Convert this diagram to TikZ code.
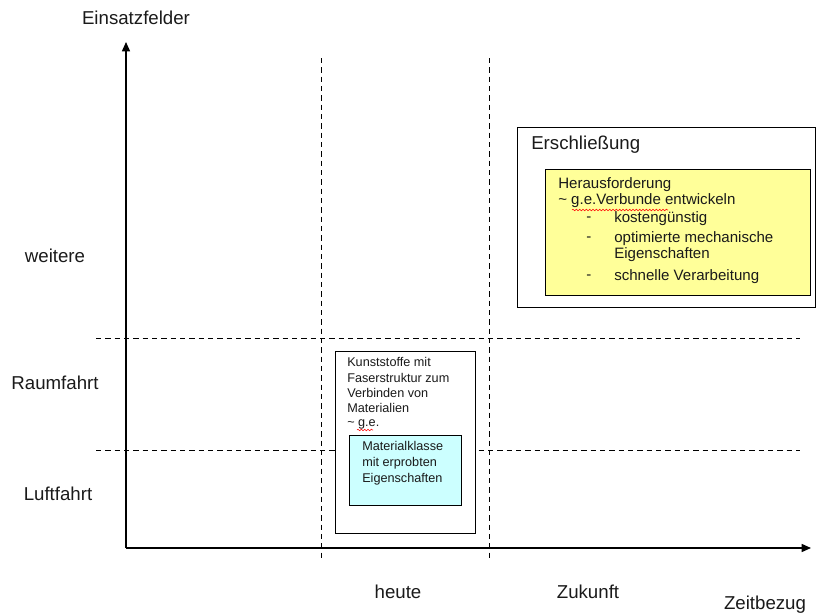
\documentclass[tikz,border=0pt]{standalone}
\usepackage{fontspec}
\setmainfont{Liberation Sans}
\usetikzlibrary{arrows.meta,decorations.pathmorphing}
\definecolor{txt}{HTML}{1A1A1A}
\definecolor{yellowbox}{HTML}{FFFF99}
\definecolor{cyanbox}{HTML}{CCFFFF}
\tikzset{
  axis/.style={line width=1.1pt,-{Triangle[length=7pt,width=6pt]}},
  grid/.style={dashed,line width=0.6pt,dash pattern=on 4pt off 3pt},
  big/.style={font=\fontsize{14}{16}\selectfont,text=txt},
  small/.style={font=\fontsize{9.5}{11}\selectfont,text=txt,anchor=west,inner sep=0pt},
  mid/.style={font=\fontsize{11.3}{13}\selectfont,text=txt,anchor=west,inner sep=0pt},
  box/.style={draw,line width=0.7pt},
  squiggle/.style={red,line width=0.4pt,decorate,decoration={snake,amplitude=0.6pt,segment length=2.5pt}}
}
\begin{document}
\begin{tikzpicture}[x=0.75pt,y=-0.75pt]
\useasboundingbox (0,0) rectangle (819,615);
% axes
\coordinate (o) at (126,548);
\coordinate (ytop) at (126,42);
\coordinate (xend) at (811,548);
\draw[axis] (o) -- (ytop);
\draw[axis] (o) -- (xend);
% dashed grid
\coordinate (v1a) at (321,58); \coordinate (v1b) at (321,561);
\coordinate (v2a) at (489,58); \coordinate (v2b) at (489,561);
\coordinate (h1a) at (96,338); \coordinate (h1b) at (800,338);
\coordinate (h2a) at (96,450); \coordinate (h2b) at (800,450);
\draw[grid] (v1a) -- (v1b);
\draw[grid] (v2a) -- (v2b);
\draw[grid] (h1a) -- (h1b);
\draw[grid] (h2a) -- (h2b);
% labels
\node[big] (einsatz) at (136,18) {Einsatzfelder};
\node[big] (weitere) at (55,256) {weitere};
\node[big] (raum) at (55,383) {Raumfahrt};
\node[big] (luft) at (58,494) {Luftfahrt};
\node[big] (heute) at (398,592) {heute};
\node[big] (zukunft) at (588,592) {Zukunft};
\node[big] (zeit) at (765,605) {Zeitbezug};
% Kunststoffe box
\filldraw[box,fill=white] (335,351) rectangle (475,533);
\node[small] (k1) at (347,362) {Kunststoffe mit};
\node[small] (k2) at (347,378) {Faserstruktur zum};
\node[small] (k3) at (347,393) {Verbinden von};
\node[small] (k4) at (347,408) {Materialien};
\node[small] (k5) at (347,424) {\textasciitilde\ g.e.};
\draw[squiggle] (357,430) -- (373,430);
\filldraw[box,fill=cyanbox] (349,435) rectangle (461,505);
\node[small] (c1) at (362,446) {Materialklasse};
\node[small] (c2) at (362,463) {mit erprobten};
\node[small] (c3) at (362,479) {Eigenschaften};
% Erschliessung box
\draw[box] (517,127) rectangle (815,307);
\node[big,anchor=west,inner sep=0pt] (ersch) at (531,145) {Erschließung};
\filldraw[box,fill=yellowbox] (545,169) rectangle (810,295);
\node[mid] (y1) at (558,185) {Herausforderung};
\node[mid] (y2) at (558,201) {\textasciitilde\ g.e.Verbunde entwickeln};
\draw[squiggle] (572,210) -- (668,210);
\node[mid] (d1) at (586,219) {-};
\node[mid] (t1) at (614,219) {kostengünstig};
\node[mid] (d2) at (586,239) {-};
\node[mid] (t2) at (614,239) {optimierte mechanische};
\node[mid] (t3) at (614,255) {Eigenschaften};
\node[mid] (d3) at (586,277) {-};
\node[mid] (t4) at (614,277) {schnelle Verarbeitung};
\end{tikzpicture}
\end{document}
